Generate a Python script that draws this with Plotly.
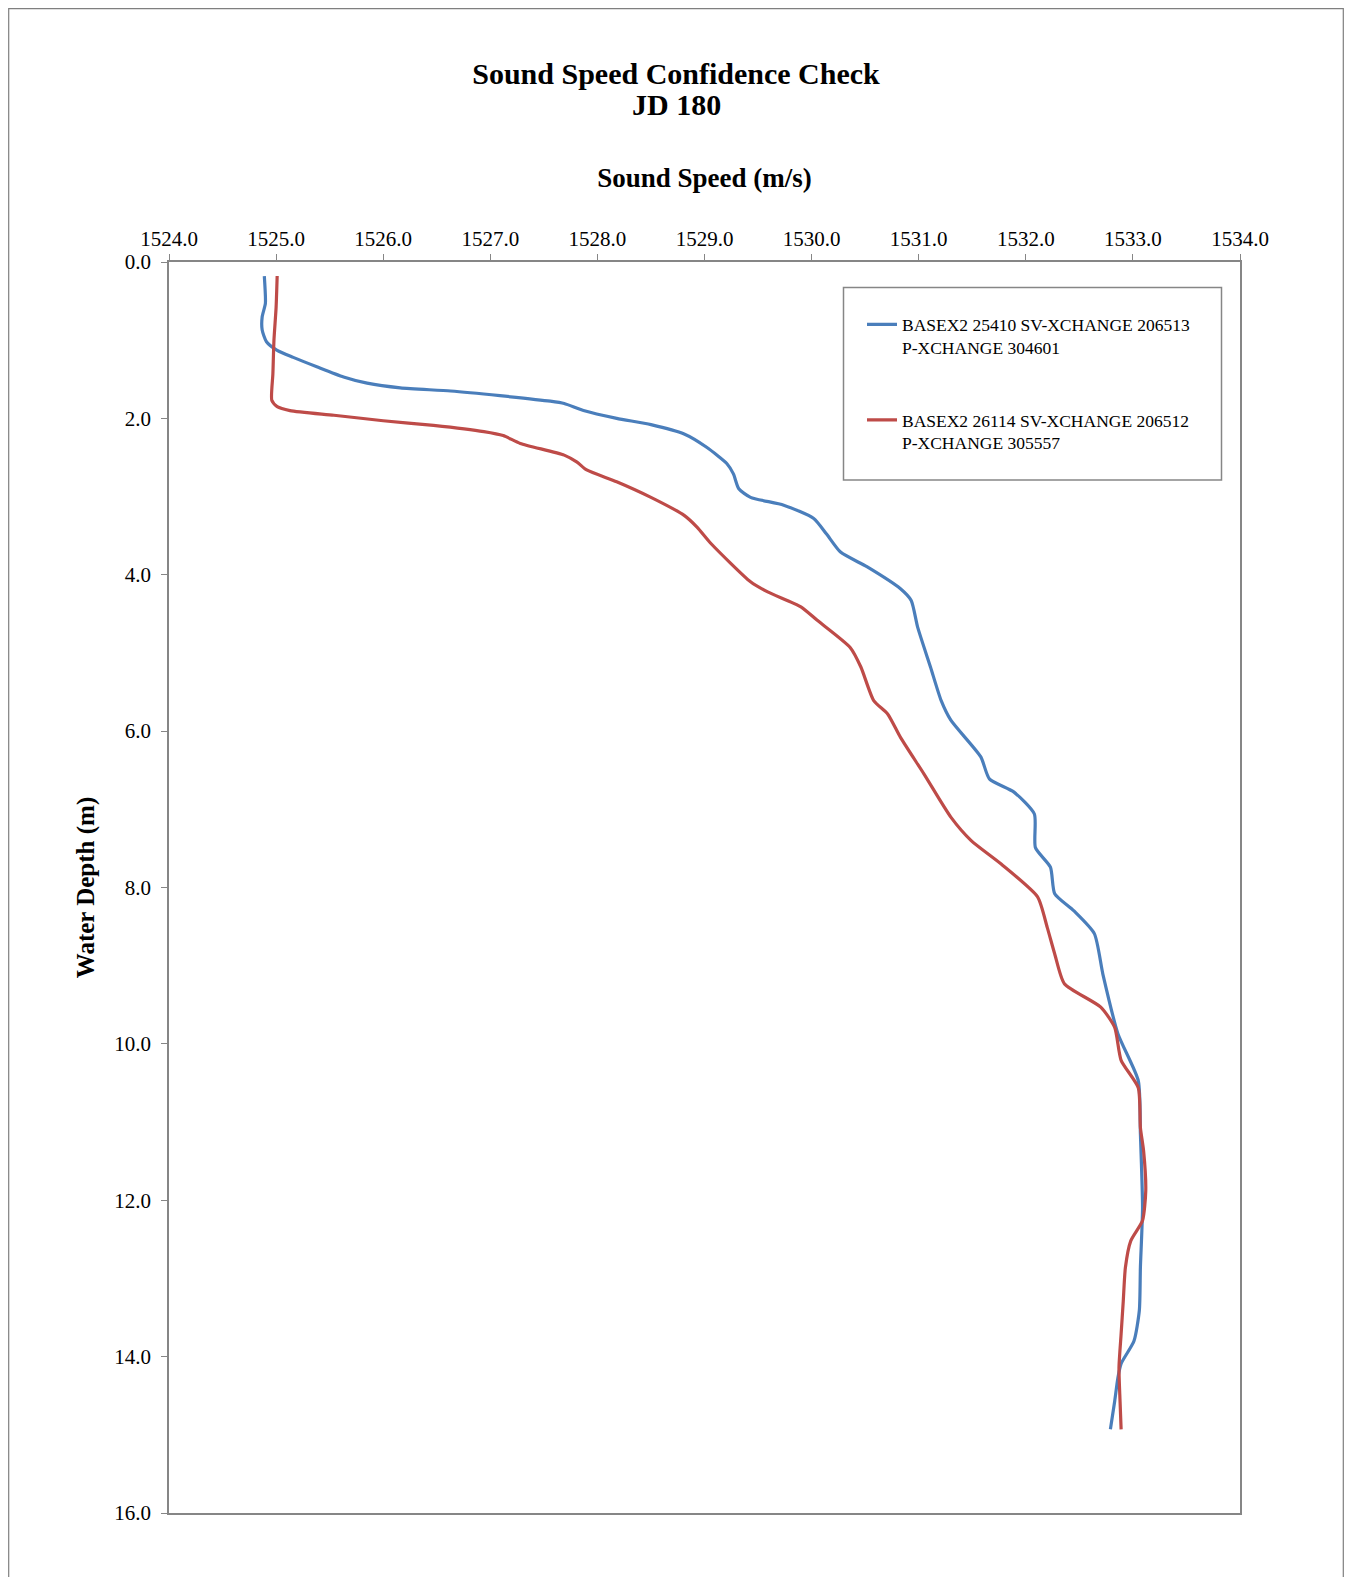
import plotly.graph_objects as go

# ---- data ----
blue_speed = [1524.89, 1524.90, 1524.87, 1524.87, 1524.91, 1525.01, 1525.16, 1525.38, 1525.63, 1525.85,
              1526.16, 1526.63, 1527.09, 1527.56, 1527.69, 1527.87, 1528.18, 1528.50, 1528.81, 1529.02,
              1529.21, 1529.27, 1529.32, 1529.43, 1529.74, 1530.02, 1530.14, 1530.27, 1530.52, 1530.83,
              1530.93, 1530.99, 1531.11, 1531.21, 1531.30, 1531.58, 1531.66, 1531.89, 1532.08, 1532.09,
              1532.23, 1532.27, 1532.45, 1532.64, 1532.72, 1532.86, 1533.05, 1533.07, 1533.09, 1533.07,
              1533.06, 1533.01, 1532.89, 1532.86, 1532.83, 1532.79]
blue_depth = [0.18, 0.53, 0.70, 0.87, 1.02, 1.13, 1.22, 1.34, 1.47, 1.55,
              1.61, 1.65, 1.71, 1.78, 1.81, 1.90, 2.00, 2.08, 2.20, 2.37,
              2.58, 2.71, 2.90, 3.01, 3.11, 3.28, 3.48, 3.71, 3.90, 4.18,
              4.33, 4.67, 5.18, 5.61, 5.86, 6.33, 6.61, 6.78, 7.06, 7.49,
              7.74, 8.08, 8.30, 8.59, 9.11, 9.87, 10.47, 11.15, 12.10, 12.86,
              13.41, 13.80, 14.09, 14.27, 14.57, 14.93]

red_speed = [1525.01, 1525.00, 1524.98, 1524.97, 1524.96, 1525.01, 1525.13, 1525.54, 1526.00, 1526.47,
             1526.94, 1527.12, 1527.28, 1527.69, 1527.81, 1527.90, 1528.18, 1528.50, 1528.81, 1528.93,
             1529.06, 1529.43, 1529.59, 1529.90, 1530.05, 1530.36, 1530.46, 1530.58, 1530.71, 1530.83,
             1531.05, 1531.30, 1531.49, 1531.77, 1532.11, 1532.20, 1532.27, 1532.36, 1532.70, 1532.83,
             1532.89, 1533.05, 1533.07, 1533.10, 1533.12, 1533.09, 1532.98, 1532.93, 1532.91, 1532.89,
             1532.87, 1532.88, 1532.89]
red_depth = [0.18, 0.58, 1.00, 1.43, 1.77, 1.85, 1.90, 1.96, 2.03, 2.09,
             2.17, 2.22, 2.32, 2.47, 2.56, 2.66, 2.81, 3.01, 3.24, 3.39,
             3.60, 4.09, 4.22, 4.41, 4.58, 4.93, 5.18, 5.61, 5.78, 6.08,
             6.55, 7.10, 7.40, 7.70, 8.12, 8.51, 8.85, 9.23, 9.53, 9.79,
             10.21, 10.56, 11.07, 11.37, 11.88, 12.26, 12.52, 12.86, 13.29, 13.71,
             14.14, 14.57, 14.93]

blue_name = "BASEX2 25410 SV-XCHANGE 206513<br>P-XCHANGE 304601"
red_name = "BASEX2 26114 SV-XCHANGE 206512<br>P-XCHANGE 305557"

title_line1 = "Sound Speed Confidence Check"
title_line2 = "JD 180"
x_title = "Sound Speed (m/s)"
y_title = "Water Depth (m)"

x_ticks = [1524.0, 1525.0, 1526.0, 1527.0, 1528.0, 1529.0, 1530.0, 1531.0, 1532.0, 1533.0, 1534.0]
y_ticks = [0.0, 2.0, 4.0, 6.0, 8.0, 10.0, 12.0, 14.0, 16.0]

BLUE = "#4A7EBB"
RED = "#BE4B48"
SERIF = "Liberation Serif, Times New Roman, serif"
AXIS_GRAY = "#868686"

# page offset: the browser body has an 8px margin around the figure
OFF = 8
W, H = 1352 - 2 * OFF, 1585 - 2 * OFF
# plot area in page pixels
PL, PR, PT, PB = 169, 1240, 262, 1513
L, R, T, B = PL - OFF, PR - OFF, PT - OFF, PB - OFF


def px_x(p):
    """page pixel x -> paper fraction"""
    return (p - PL) / (PR - PL)


def px_y(p):
    """page pixel y -> paper fraction"""
    return 1 - (p - PT) / (PB - PT)


fig = go.Figure()
fig.add_trace(go.Scatter(x=blue_speed, y=blue_depth, mode="lines", name=blue_name,
                         legendgroup="a", line=dict(color=BLUE, width=3.2, shape="spline", smoothing=0.6)))
fig.add_trace(go.Scatter(x=red_speed, y=red_depth, mode="lines", name=red_name,
                         legendgroup="b", line=dict(color=RED, width=3.2, shape="spline", smoothing=0.6)))

fig.update_layout(
    width=W, height=H, autosize=False,
    margin=dict(l=L, r=W - R, t=T, b=H - B),
    paper_bgcolor="white", plot_bgcolor="white",
    font=dict(family=SERIF, color="#000000"),
    title=dict(text="<b>" + title_line1 + "</b>",
               x=0.5, xanchor="center", y=1 - (73.0 - OFF) / H, yanchor="middle",
               font=dict(family=SERIF, size=30, color="#000000")),
    annotations=[
        dict(text="<b>" + title_line2 + "</b>", xref="paper", yref="paper",
             x=px_x(676), y=px_y(104.5), xanchor="center", yanchor="middle", showarrow=False,
             font=dict(family=SERIF, size=30, color="#000000")),
    ],
    xaxis=dict(side="top", range=[1524, 1534], tickvals=x_ticks, tickformat=".1f",
               showgrid=False, zeroline=False, showline=True, linecolor=AXIS_GRAY, linewidth=1.5,
               mirror=True, ticks="outside", ticklen=6, tickcolor=AXIS_GRAY, tickwidth=1.2,
               ticklabelstandoff=0,
               tickfont=dict(family=SERIF, size=21, color="#000000"),
               title=dict(text="<b>" + x_title + "</b>", standoff=31,
                          font=dict(family=SERIF, size=27, color="#000000"))),
    yaxis=dict(range=[16, 0], tickvals=y_ticks, tickformat=".1f",
               showgrid=False, zeroline=False, showline=True, linecolor=AXIS_GRAY, linewidth=1.5,
               mirror=True, ticks="outside", ticklen=6, tickcolor=AXIS_GRAY, tickwidth=1.2,
               ticklabelstandoff=6,
               tickfont=dict(family=SERIF, size=21, color="#000000"),
               title=dict(text="<b>" + y_title + "</b>", standoff=13,
                          font=dict(family=SERIF, size=25, color="#000000"))),
    legend=dict(x=px_x(862), y=px_y(306.5), xanchor="left", yanchor="top",
                bgcolor="rgba(0,0,0,0)", borderwidth=0, valign="top",
                tracegroupgap=47, font=dict(family=SERIF, size=17.5, color="#000000")),
    shapes=[
        dict(type="rect", xref="paper", yref="paper",
             x0=px_x(843.5), x1=px_x(1221.5), y0=px_y(480), y1=px_y(287.5),
             line=dict(color=AXIS_GRAY, width=1.5), fillcolor="rgba(0,0,0,0)", layer="below"),
        dict(type="rect", xref="paper", yref="paper",
             x0=px_x(8.7), x1=px_x(1343.3), y0=px_y(1600), y1=px_y(8.7),
             line=dict(color="#7F7F7F", width=1.2), fillcolor="rgba(0,0,0,0)", layer="below"),
    ],
)

fig.write_html("out.html")
